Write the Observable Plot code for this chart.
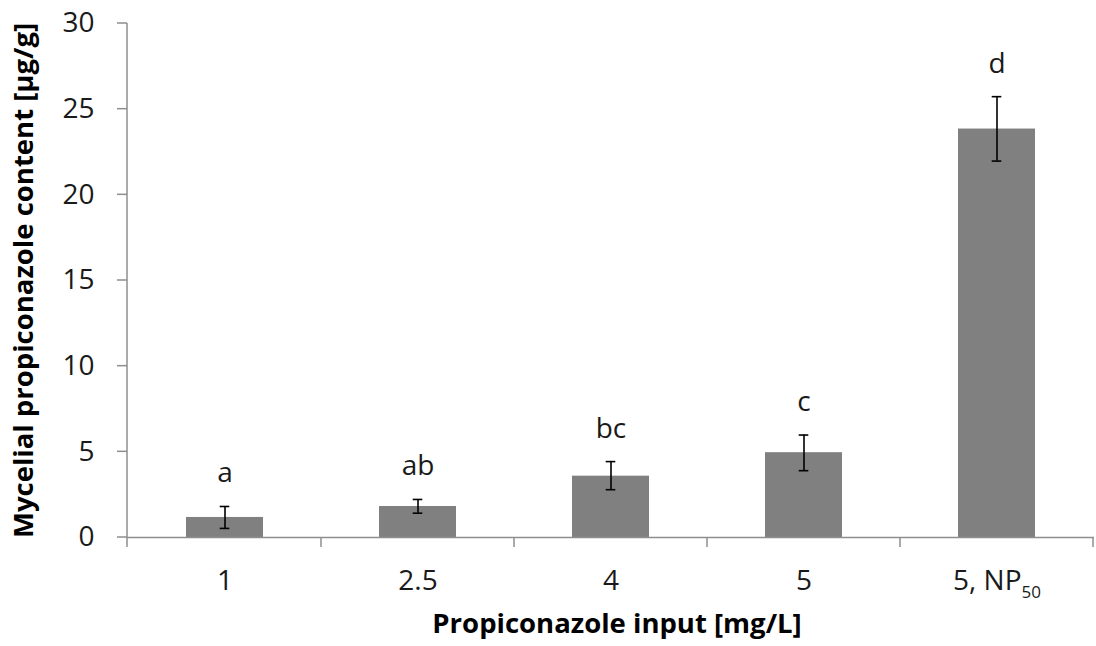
<!DOCTYPE html>
<html><head><meta charset="utf-8">
<script src="https://cdn.jsdelivr.net/npm/d3@7"></script>
<script src="https://cdn.jsdelivr.net/npm/@observablehq/plot@0.6"></script>
<style>body{margin:0;background:#fff} #chart svg{display:block}</style>
</head><body><div id="chart"></div>
<script>
const categories = ["1", "2.5", "4", "5", "5, NP50"];
const means = [1.17, 1.81, 3.58, 4.95, 23.84];
const lower = [0.53, 1.42, 2.79, 3.90, 21.97];
const upper = [1.81, 2.22, 4.43, 5.98, 25.73];
const letters = ["a", "ab", "bc", "c", "d"];
const yTicks = [0, 5, 10, 15, 20, 25, 30];
const xTitle = "Propiconazole input [mg/L]";
const yTitle = "Mycelial propiconazole content [µg/g]";

const data = categories.map((c, i) => ({cat: c, mean: means[i], lo: lower[i], hi: upper[i], letter: letters[i]}));

const axisGray = "#8e8e8e";
const plot = Plot.plot({
  width: 1096, height: 646,
  marginTop: 23, marginBottom: 109, marginLeft: 127, marginRight: 2,
  style: {fontFamily: "'Open Sans', sans-serif", fontSize: "28px", color: "#1a1a1a", background: "#fff"},
  x: {domain: categories, paddingInner: 0.6, paddingOuter: 0.3, tickSize: 0, tickPadding: 33, label: null},
  y: {domain: [0, 30], ticks: yTicks, tickSize: 0, tickPadding: 33, label: null},
  marks: [
    Plot.barY(data, {x: "cat", y: "mean", fill: "#808080"}),
    Plot.ruleY([0], {stroke: axisGray, strokeWidth: 1.5}),
    Plot.ruleX(data, {x: "cat", y1: "lo", y2: "hi", stroke: "#000", strokeWidth: 1.6}),
    Plot.tickY(data, {x: "cat", y: "lo", stroke: "#000", strokeWidth: 1.6, insetLeft: 33.7, insetRight: 33.7}),
    Plot.tickY(data, {x: "cat", y: "hi", stroke: "#000", strokeWidth: 1.6, insetLeft: 33.7, insetRight: 33.7}),
    Plot.text(data, {x: "cat", y: "hi", text: "letter", lineAnchor: "bottom", dy: -24, fontSize: 28, fill: "#1a1a1a"}),
    Plot.text([yTitle], {text: d => d, frameAnchor: "left", textAnchor: "middle", lineAnchor: "middle", rotate: -90, dx: -103, fontWeight: "bold", fontSize: 27.5, fill: "#000"}),
    Plot.text([xTitle], {text: d => d, frameAnchor: "bottom", textAnchor: "middle", lineAnchor: "middle", dx: 6, dy: 87, fontWeight: "bold", fontSize: 27.5, fill: "#000"})
  ]
});
document.getElementById("chart").appendChild(plot);

// axis decorations computed from the plot's own scales
const xs = plot.scale("x"), ys = plot.scale("y");
const svg = d3.select(plot);
const x0 = xs.range[0];
const g = svg.append("g").attr("stroke", axisGray).attr("stroke-width", 1.5);
g.append("line").attr("x1", x0).attr("x2", x0).attr("y1", ys.apply(30)).attr("y2", ys.apply(0) + 10);
yTicks.forEach(t => g.append("line").attr("x1", x0 - 10).attr("x2", x0).attr("y1", ys.apply(t)).attr("y2", ys.apply(t)));
const half = (xs.step - xs.bandwidth) / 2;
categories.forEach((c, i) => {
  if (i > 0) {
    const bx = xs.apply(c) - half;
    g.append("line").attr("x1", bx).attr("x2", bx).attr("y1", ys.apply(0)).attr("y2", ys.apply(0) + 10);
  }
});
const lastX = xs.apply(categories[categories.length - 1]) + xs.bandwidth + half;
g.append("line").attr("x1", lastX).attr("x2", lastX).attr("y1", ys.apply(0)).attr("y2", ys.apply(0) + 10);

// subscript for NP50
plot.querySelectorAll("text").forEach(t => {
  if (t.textContent === "5, NP50") {
    t.textContent = "5, NP";
    const s = document.createElementNS("http://www.w3.org/2000/svg", "tspan");
    s.setAttribute("font-size", "17");
    s.setAttribute("dy", "0.45em");
    s.textContent = "50";
    t.appendChild(s);
  }
});
</script>
</body></html>
